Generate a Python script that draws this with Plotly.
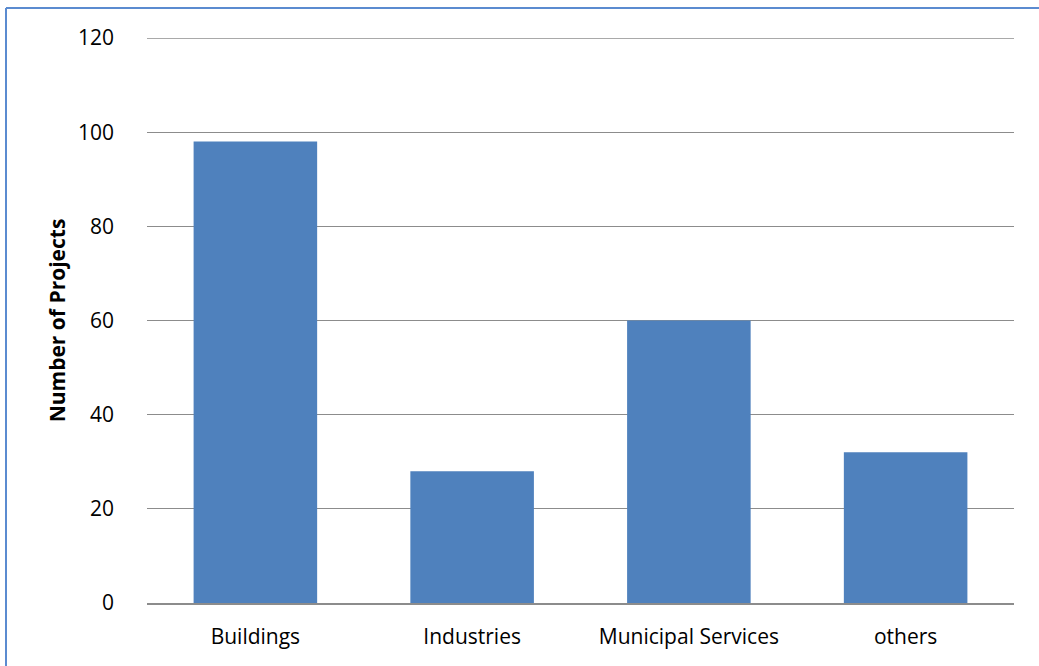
import plotly.graph_objects as go

categories = ["Buildings", "Industries", "Municipal Services", "others"]
projects = [98, 28, 60, 32]
y_ticks = [0, 20, 40, 60, 80, 100, 120]

W, H = 1039, 666
L, R, T, B = 147, 25, 38, 63
pw, ph = W - L - R, H - T - B

fig = go.Figure(
    go.Bar(
        x=categories,
        y=projects,
        width=0.57,
        marker=dict(color="#4F81BD", line=dict(width=0)),
    )
)

font_family = "Open Sans, Liberation Sans, sans-serif"
grid_color = "#8C8C8C"

# top gridline sits on the plot edge, so draw it explicitly
fig.add_shape(type="line", xref="paper", yref="y", x0=0, x1=1, y0=120, y1=120,
              line=dict(color=grid_color, width=1.3), layer="below")

# frame along the left and top edges of the chart
bx = (6 - L) / pw
by = 1 + (T - 8) / ph
fig.add_shape(type="line", xref="paper", yref="paper", x0=bx, x1=bx, y0=-0.5, y1=by,
              line=dict(color="#5B8BD0", width=2))
fig.add_shape(type="line", xref="paper", yref="paper", x0=bx, x1=1.5, y0=by, y1=by,
              line=dict(color="#5B8BD0", width=2))

fig.update_layout(
    width=W,
    height=H,
    margin=dict(l=L, r=R, t=T, b=B),
    plot_bgcolor="white",
    paper_bgcolor="white",
    showlegend=False,
    bargap=0.43,
    font=dict(family=font_family, size=21, color="#000000"),
    xaxis=dict(
        showgrid=False,
        showline=True,
        linecolor=grid_color,
        linewidth=2,
        ticks="",
        ticklabelstandoff=14,
        tickfont=dict(size=21),
    ),
    yaxis=dict(
        range=[0, 120],
        tickvals=y_ticks,
        showgrid=True,
        gridcolor=grid_color,
        gridwidth=1.3,
        zeroline=False,
        showline=False,
        ticks="",
        ticklabelstandoff=32,
        tickfont=dict(size=21),
        title=dict(text="<b>Number of Projects</b>", font=dict(size=21), standoff=6),
    ),
)

fig.write_html("out.html")
